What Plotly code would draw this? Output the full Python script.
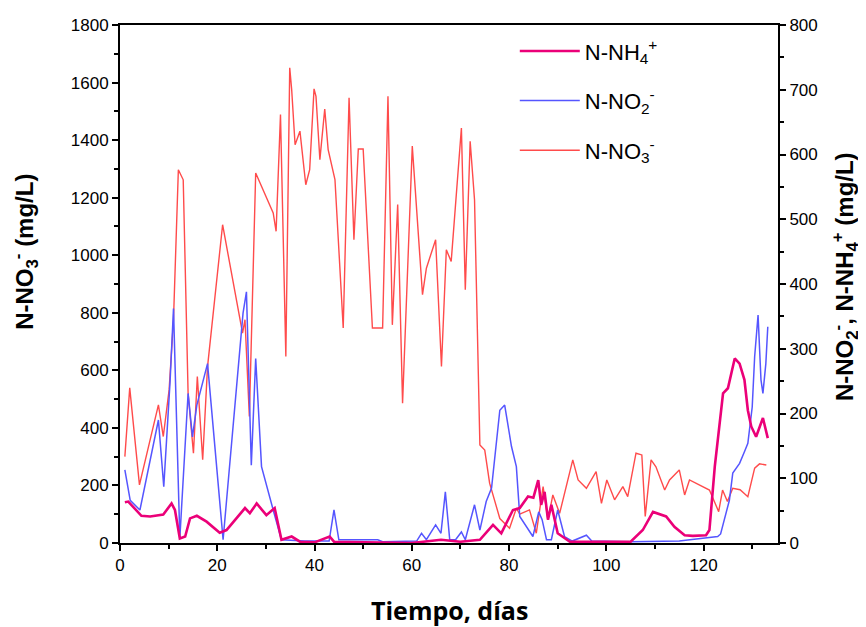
import plotly.graph_objects as go

# N-NO3- (left axis, mg/L)
no3_day = [1.0, 2.0, 4.0, 7.9, 8.9, 10.1, 11.0, 12.0, 13.0, 14.0, 15.1, 15.9, 17.0, 18.0,
           21.1, 25.2, 25.7, 26.6, 27.9, 31.5, 32.1, 33.0, 34.1, 34.9, 35.3, 36.0, 37.0,
           38.2, 39.0, 39.9, 40.3, 41.1, 42.1, 42.8, 44.2, 45.9, 47.1, 48.1, 49.0, 50.0,
           51.9, 54.0, 55.1, 56.0, 57.1, 58.1, 60.1, 61.0, 62.2, 63.0, 64.9, 66.1, 67.1,
           68.1, 70.2, 71.0, 72.0, 72.9, 74.0, 75.0, 76.0, 78.1, 80.1, 81.5, 82.2, 84.2,
           85.6, 87.0, 88.0, 89.0, 90.4, 93.1, 94.2, 95.9, 97.9, 99.0, 100.1, 101.7,
           103.4, 104.4, 106.1, 107.3, 108.0, 109.2, 110.2, 112.0, 113.0, 115.0, 116.1,
           117.1, 119.2, 121.2, 123.1, 123.9, 124.9, 126.0, 127.5, 129.1, 130.5, 131.5,
           132.9]
no3_val = [300, 539, 202, 480, 370, 532, 776, 1297, 1262, 521, 312, 578, 289, 613,
           1106, 729, 776, 440, 1286, 1147, 1083, 1489, 648, 1651, 1576, 1384, 1431,
           1245, 1297, 1578, 1552, 1332, 1508, 1367, 1263, 747, 1547, 1054, 1369, 1369,
           747, 747, 1552, 758, 1176, 486, 1379, 1147, 863, 955, 1054, 613, 1019,
           978, 1442, 880, 1396, 1193, 341, 323, 208, 85, 51, 121, 100, 115,
           34, 196, 80, 167, 103, 289, 219, 190, 248, 138, 219, 150,
           196, 161, 312, 306, 92, 289, 265, 184, 219, 254, 167,
           219, 202, 184, 109, 184, 144, 190, 185, 161, 260, 275,
           271]

# N-NH4+ (right axis, mg/L)
nh4_day = [1.0, 1.7, 4.4, 6.2, 8.9, 10.6, 11.3, 12.3, 13.4, 14.4, 15.8, 17.8, 20.5, 21.9,
           25.7, 26.7, 28.1, 30.1, 31.8, 33.2, 35.3, 37.0, 40.0, 43.1, 44.0, 50.0, 60.0,
           66.0, 70.0, 74.0, 76.7, 78.4, 80.8, 82.2, 83.9, 85.0, 86.0, 86.6, 87.3, 88.0,
           88.7, 90.0, 92.5, 105.0, 107.5, 109.6, 110.8, 112.3, 114.0, 116.1, 117.8,
           120.5, 121.2, 122.3, 124.0, 125.0, 126.4, 127.4, 128.4, 129.1, 129.8, 130.8,
           132.2, 133.2]
nh4_val = [63, 64, 42, 41, 44, 61, 51, 7, 10, 38, 42, 33, 16, 20,
           54, 46, 61, 43, 54, 5, 10, 2, 1, 10, 2, 1, 0,
           5, 2, 5, 28, 15, 51, 54, 72, 70, 97, 59, 79, 36,
           59, 15, 2, 2, 20, 48, 45, 41, 25, 12, 11,
           12, 20, 118, 231, 239, 285, 277, 252, 205, 180, 164,
           193, 162]

# N-NO2- (right axis, mg/L)
no2_day = [1.0, 2.1, 4.1, 7.9, 9.0, 10.3, 11.0, 12.3, 14.0, 14.9, 15.8, 18.0, 21.2, 25.3,
           26.0, 26.5, 27.0, 27.9, 29.1, 31.5, 33.2, 38.0, 43.0, 44.0, 45.0, 53.0, 54.0,
           61.0, 62.0, 63.0, 64.9, 66.0, 66.9, 67.8, 69.0, 70.2, 71.0, 72.9, 74.0, 75.3,
           76.4, 78.1, 79.1, 80.5, 81.5, 82.2, 84.9, 86.1, 86.8, 87.7, 88.7, 90.0, 91.4,
           93.0, 95.9, 97.0, 105.0, 115.0, 119.2, 122.9, 123.5, 124.6, 125.3, 126.0,
           127.4, 128.4, 129.1, 130.0, 130.5, 131.2, 131.8, 132.2, 132.8, 133.2]
no2_val = [113, 66, 51, 190, 87, 250, 362, 7, 231, 164, 213, 277, 5, 355,
           388, 270, 120, 285, 118, 51, 5, 3, 3, 51, 5, 5, 2,
           3, 15, 5, 28, 15, 79, 5, 5, 17, 5, 59, 20, 64,
           85, 205, 213, 149, 118, 41, 10, 48, 36, 5, 5, 51, 10,
           3, 12, 3, 2, 3, 7, 10, 14, 48, 66, 108,
           123, 141, 154, 210, 288, 352, 252, 231, 277, 334]

fig = go.Figure()

fig.add_trace(go.Scatter(x=no3_day, y=no3_val, mode="lines", name="N-NO<sub>3</sub><sup>-</sup>",
                         line=dict(color="rgb(255,75,75)", width=1.4),
                         legendgroup="c", legendrank=3))
fig.add_trace(go.Scatter(x=no2_day, y=no2_val, mode="lines", name="N-NO<sub>2</sub><sup>-</sup>",
                         line=dict(color="rgb(85,85,255)", width=1.5), yaxis="y2",
                         legendgroup="b", legendrank=2))
fig.add_trace(go.Scatter(x=nh4_day, y=nh4_val, mode="lines", name="N-NH<sub>4</sub><sup>+</sup>",
                         line=dict(color="rgb(235,0,120)", width=2.6), yaxis="y2",
                         legendgroup="a", legendrank=1))

tickfont = dict(family="Liberation Sans, Arial", size=17, color="black")
titlefont = dict(family="Liberation Sans, Arial", size=24, color="black")
axis_common = dict(showgrid=False, zeroline=False, showline=True, linecolor="black",
                   linewidth=2, ticks="outside", ticklen=6, tickwidth=1.5,
                   tickcolor="black", tickfont=tickfont, automargin=False)

# the page body adds an 8px margin, so the figure is a bit smaller than the window
fig.update_layout(
    width=858, height=619,
    margin=dict(l=112, r=88, t=17, b=84),
    plot_bgcolor="white", paper_bgcolor="white",
    xaxis=dict(range=[0, 135.3], dtick=20, mirror=True,
               minor=dict(dtick=10, ticks="outside", ticklen=4, tickcolor="black"),
               **axis_common),
    yaxis=dict(range=[0, 1800], dtick=200,
               minor=dict(dtick=100, ticks="outside", ticklen=4, tickcolor="black"),
               **axis_common),
    yaxis2=dict(range=[0, 800], dtick=100, overlaying="y", side="right",
                minor=dict(dtick=50, ticks="outside", ticklen=4, tickcolor="black"),
                **axis_common),
    legend=dict(x=0.6, y=0.99, xanchor="left", yanchor="top", bgcolor="rgba(0,0,0,0)",
                font=dict(family="Liberation Sans, Arial", size=22, color="black"),
                itemwidth=60, tracegroupgap=18, traceorder="grouped"),
    showlegend=True,
)

# axis titles as annotations so they sit where the original has them
fig.add_annotation(text="<b>Tiempo, días</b>", xref="paper", yref="paper",
                   x=0.5015, y=-0.1293, xanchor="center", yanchor="middle", showarrow=False,
                   font=dict(family="Open Sans, DejaVu Sans", size=25, color="black"))
fig.add_annotation(text="<b>N-NO<sub>3</sub><sup>-</sup> (mg/L)</b>", textangle=-90,
                   xref="paper", yref="paper", x=-0.1445, y=0.562,
                   xanchor="center", yanchor="middle", showarrow=False, font=titlefont)
fig.add_annotation(text="<b>N-NO<sub>2</sub><sup>-</sup>, N-NH<sub>4</sub><sup>+</sup> (mg/L)</b>",
                   textangle=-90, xref="paper", yref="paper", x=1.102, y=0.5135,
                   xanchor="center", yanchor="middle", showarrow=False, font=titlefont)

fig.write_html("out.html")
